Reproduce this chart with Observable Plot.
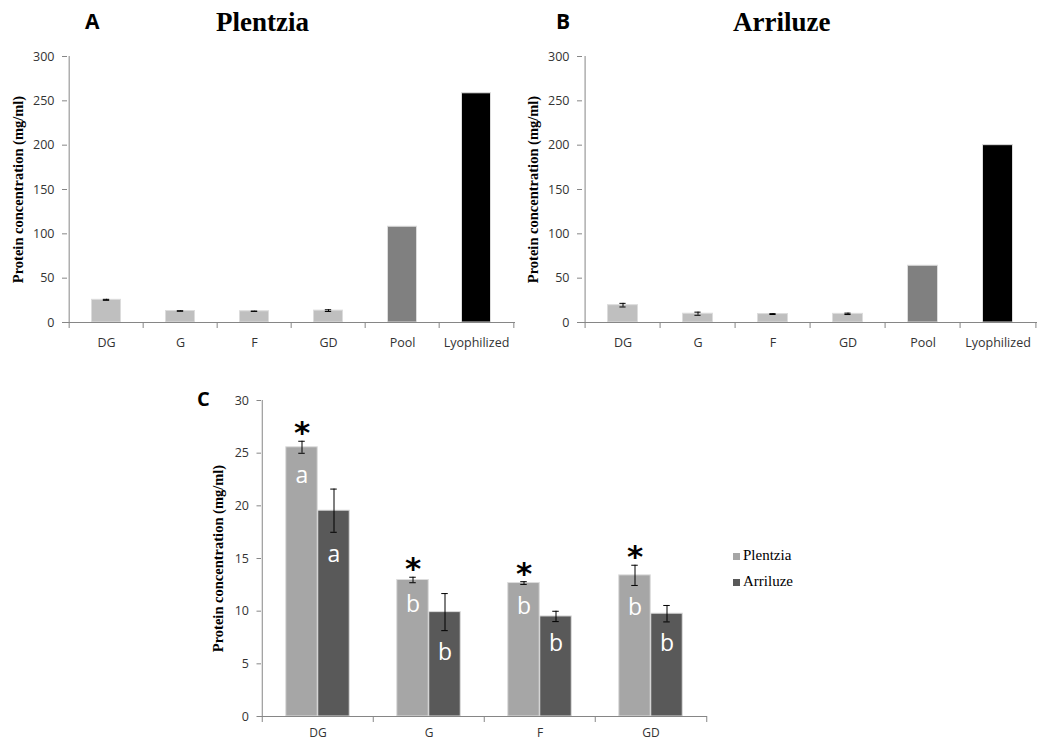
<!DOCTYPE html>
<html>
<head>
<meta charset="utf-8">
<script src="https://cdn.jsdelivr.net/npm/d3@7"></script>
<script src="https://cdn.jsdelivr.net/npm/@observablehq/plot@0.6"></script>
<style>
  body { margin: 0; background: #fff; }
  #root { position: relative; width: 1038px; height: 740px; overflow: hidden; background: #fff; }
  .panel { position: absolute; }
  .letter { position: absolute; font-family: "Open Sans", "Noto Sans", "DejaVu Sans", sans-serif; font-weight: bold; font-size: 21px; line-height: 21px; color: #000; white-space: nowrap; }
  .letter.c { font-size: 20px; line-height: 20px; }
  .title { position: absolute; font-family: "Liberation Serif", "Times New Roman", serif; font-weight: bold; font-size: 27px; line-height: 27px; color: #000; white-space: nowrap; }
  .legend { position: absolute; font-family: "Liberation Serif", "Times New Roman", serif; font-size: 15px; color: #000; }
  .legend .item { position: absolute; white-space: nowrap; line-height: 15px; }
  .legend .sw { position: absolute; width: 7px; height: 7px; }
  .legend .lab { position: absolute; left: 10px; top: 0; }
</style>
</head>
<body>
<div id="root"></div>
<script>
// ---------------- data ----------------
const categoriesAB = ["DG", "G", "F", "GD", "Pool", "Lyophilized"];
const kindsAB = ["fraction", "fraction", "fraction", "fraction", "pool", "lyophilized"];
const plentziaAB = [25.56, 12.96, 12.67, 13.40, 108, 258.5];
const plentziaErrAB = [0.57, 0.26, 0.13, 0.96, 0, 0];
const arriluzeAB = [19.54, 9.91, 9.50, 9.76, 64, 200];
const arriluzeErrAB = [2.05, 1.76, 0.49, 0.78, 0, 0];
const yTicksAB = [0, 50, 100, 150, 200, 250, 300];

const categoriesC = ["DG", "G", "F", "GD"];
const seriesC = ["Plentzia", "Arriluze"];
const plentziaC = [25.56, 12.96, 12.67, 13.40];
const plentziaErrC = [0.57, 0.26, 0.13, 0.96];
const arriluzeC = [19.54, 9.91, 9.50, 9.76];
const arriluzeErrC = [2.05, 1.76, 0.49, 0.78];
const lettersPlentzia = ["a", "b", "b", "b"];
const lettersArriluze = ["a", "b", "b", "b"];
const significantC = [true, true, true, true];
const yTicksC = [0, 5, 10, 15, 20, 25, 30];

const yLabel = "Protein concentration (mg/ml)";
const panelTitles = ["Plentzia", "Arriluze"];
const panelLetters = ["A", "B", "C"];

// ---------------- style ----------------
const axisColor = "#868686";
const textColor = "#333";
const sans = '"Open Sans", "Noto Sans", "DejaVu Sans", sans-serif';
const serif = '"Liberation Serif", "Times New Roman", serif';
const kindColor = {fraction: "#bfbfbf", pool: "#808080", lyophilized: "#000000"};
const seriesColor = {Plentzia: "#a6a6a6", Arriluze: "#595959"};

const root = document.getElementById("root");
function place(el, left, top) {
  const d = document.createElement("div");
  d.className = "panel";
  d.style.left = left + "px";
  d.style.top = top + "px";
  d.appendChild(el);
  root.appendChild(d);
}

function yTitle(dx) {
  return Plot.text([yLabel], {text: d => d, frameAnchor: "left", textAnchor: "middle", lineAnchor: "middle", rotate: -90, dx, fontFamily: serif, fontWeight: "bold", fontSize: 14.5, fill: "#000"});
}

function panelAB(vals, errs, cfg) {
  const n = categoriesAB.length;
  const step = (cfg.width - cfg.ml - cfg.mr) / n;
  const data = categoriesAB.map((c, i) => ({c, v: vals[i], e: errs[i], kind: kindsAB[i]}));
  const errData = data.filter(d => d.e > 0);
  const capInset = (step - 7) / 2;
  return Plot.plot({
    width: cfg.width, height: cfg.height,
    marginLeft: cfg.ml, marginRight: cfg.mr, marginTop: cfg.mt, marginBottom: cfg.mb,
    style: {fontFamily: sans, fontSize: "12.5px", color: textColor, background: "transparent", overflow: "visible"},
    x: {domain: categoriesAB, padding: 0},
    y: {domain: [0, 300]},
    marks: [
      Plot.barY(data, {x: "c", y: "v", fill: d => kindColor[d.kind], stroke: "#dcdcdc", strokeWidth: 1, insetLeft: cfg.inset, insetRight: cfg.inset}),
      Plot.ruleX(errData, {x: "c", y1: d => d.v - d.e, y2: d => d.v + d.e, stroke: "#000", strokeWidth: 1}),
      Plot.tickY(errData, {x: "c", y: d => d.v + d.e, stroke: "#000", insetLeft: capInset, insetRight: capInset}),
      Plot.tickY(errData, {x: "c", y: d => d.v - d.e, stroke: "#000", insetLeft: capInset, insetRight: capInset}),
      Plot.ruleY([0], {stroke: axisColor}),
      Plot.ruleX([categoriesAB[0]], {x: d => d, dx: -step / 2, stroke: axisColor}),
      Plot.axisX({ticks: categoriesAB, tickSize: 6, dx: -step / 2, tickFormat: () => "", stroke: axisColor, label: null}),
      Plot.axisX({ticks: categoriesAB.slice(-1), tickSize: 6, dx: step / 2, tickFormat: () => "", stroke: axisColor, label: null}),
      Plot.axisX({ticks: categoriesAB, tickSize: 0, tickPadding: 15.5, label: null, fill: textColor}),
      Plot.axisY({ticks: yTicksAB, tickSize: 5, tickPadding: 8, stroke: axisColor, fill: textColor, label: null}),
      yTitle(cfg.labelDx)
    ]
  });
}

function panelC(cfg) {
  const n = categoriesC.length;
  const step = (cfg.width - cfg.ml - cfg.mr) / n;
  const bw = 32;
  const data = categoriesC.flatMap((c, i) => [
    {c, s: seriesC[0], v: plentziaC[i], e: plentziaErrC[i], letter: lettersPlentzia[i], sig: significantC[i]},
    {c, s: seriesC[1], v: arriluzeC[i], e: arriluzeErrC[i], letter: lettersArriluze[i], sig: false}
  ]);
  const P = data.filter(d => d.s === seriesC[0]);
  const A = data.filter(d => d.s === seriesC[1]);
  const capHalf = 3.5;
  const marksFor = (arr, side) => {
    // side = -1 for left bar, +1 for right bar
    const insetL = side < 0 ? step / 2 - bw : step / 2;
    const insetR = side < 0 ? step / 2 : step / 2 - bw;
    const cx = step / 2 + side * bw / 2; // cap centre from band start
    const capL = cx - capHalf, capR = step - cx - capHalf;
    return [
      Plot.barY(arr, {x: "c", y: "v", fill: d => seriesColor[d.s], stroke: "#dcdcdc", strokeWidth: 1, insetLeft: insetL, insetRight: insetR}),
      Plot.ruleX(arr, {x: "c", y1: d => d.v - d.e, y2: d => d.v + d.e, dx: side * bw / 2, stroke: "#000", strokeWidth: 1}),
      Plot.tickY(arr, {x: "c", y: d => d.v + d.e, stroke: "#000", insetLeft: capL, insetRight: capR}),
      Plot.tickY(arr, {x: "c", y: d => d.v - d.e, stroke: "#000", insetLeft: capL, insetRight: capR}),
      Plot.text(arr, {x: "c", y: d => d.v - d.e, text: "letter", dx: side * bw / 2, dy: 22, lineAnchor: "middle", fill: "#fff", fontFamily: sans, fontSize: 23}),
      Plot.text(arr.filter(d => d.sig), {x: "c", y: d => d.v + d.e, text: () => "*", dx: side * bw / 2, dy: 2, lineAnchor: "bottom", fill: "#000", fontFamily: '"DejaVu Sans", sans-serif', fontWeight: "bold", fontSize: 31})
    ];
  };
  return Plot.plot({
    width: cfg.width, height: cfg.height,
    marginLeft: cfg.ml, marginRight: cfg.mr, marginTop: cfg.mt, marginBottom: cfg.mb,
    style: {fontFamily: sans, fontSize: "12.5px", color: textColor, background: "transparent", overflow: "visible"},
    x: {domain: categoriesC, padding: 0},
    y: {domain: [0, 30]},
    marks: [
      ...marksFor(P, -1),
      ...marksFor(A, 1),
      Plot.ruleY([0], {stroke: axisColor}),
      Plot.ruleX([categoriesC[0]], {x: d => d, dx: -step / 2, stroke: axisColor}),
      Plot.axisX({ticks: categoriesC, tickSize: 6, dx: -step / 2, tickFormat: () => "", stroke: axisColor, label: null}),
      Plot.axisX({ticks: categoriesC.slice(-1), tickSize: 6, dx: step / 2, tickFormat: () => "", stroke: axisColor, label: null}),
      Plot.axisX({ticks: categoriesC, tickSize: 0, tickPadding: 11.5, label: null, fill: textColor, fontSize: 12}),
      Plot.axisY({ticks: yTicksC, tickSize: 4.5, tickPadding: 8, stroke: axisColor, fill: textColor, label: null}),
      yTitle(cfg.labelDx)
    ]
  });
}

place(panelAB(plentziaAB, plentziaErrAB, {width: 520, height: 360, ml: 67, mr: 5, mt: 56, mb: 38, inset: 22.5, labelDx: -49}), 0, 0);
place(panelAB(arriluzeAB, arriluzeErrAB, {width: 518, height: 360, ml: 62, mr: 1, mt: 56, mb: 38, inset: 22.5, labelDx: -49}), 520, 0);
place(panelC({width: 520, height: 370, ml: 61, mr: 13, mt: 30, mb: 24, labelDx: -43}), 200, 370);

// letters and titles
function addText(cls, txt, left, top) {
  const d = document.createElement("div");
  d.className = cls;
  d.textContent = txt;
  d.style.left = left + "px";
  d.style.top = top + "px";
  root.appendChild(d);
}
addText("letter", panelLetters[0], 85, 10.5);
addText("letter", panelLetters[1], 556, 10.5);
addText("letter c", panelLetters[2], 197, 389);
addText("title", panelTitles[0], 216, 9);
addText("title", panelTitles[1], 733, 9);

// legend
const leg = document.createElement("div");
leg.className = "legend";
leg.style.left = "733px";
leg.style.top = "548px";
seriesC.forEach((s, i) => {
  const it = document.createElement("div");
  it.className = "item";
  it.style.top = (i * 26) + "px";
  const sw = document.createElement("div");
  sw.className = "sw";
  sw.style.background = seriesColor[s];
  sw.style.top = "5px";
  const lab = document.createElement("div");
  lab.className = "lab";
  lab.textContent = s;
  it.appendChild(sw);
  it.appendChild(lab);
  leg.appendChild(it);
});
root.appendChild(leg);
</script>
</body>
</html>
